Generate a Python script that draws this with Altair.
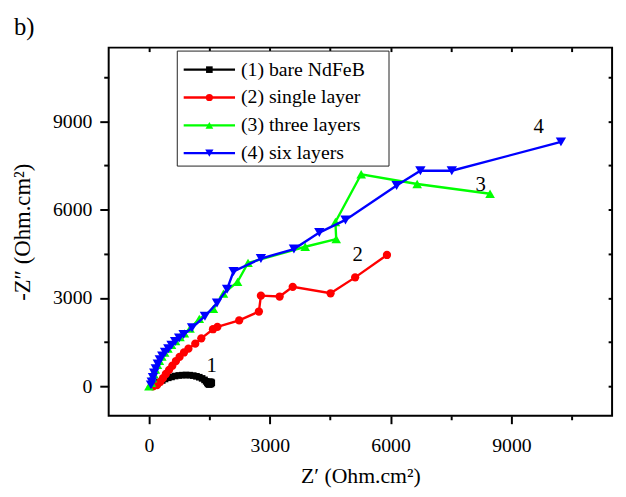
import altair as alt
import pandas as pd

# ---------------- data ----------------
series_names = ["(1) bare NdFeB", "(2) single layer", "(3) three layers", "(4) six layers"]
series_colors = ["#000000", "#ff0000", "#00ff00", "#0000ff"]
series_shapes = ["square", "circle", "triangle-up", "triangle-down"]
series_sizes = [45, 70, 95, 110]

bare_x = [100, 150, 200, 260, 330, 400, 480, 560, 650, 740, 830, 920, 1010, 1100,
          1180, 1250, 1320, 1380, 1420, 1450, 1470, 1500, 1540, 1560, 1540, 1500]
bare_y = [20, 60, 100, 150, 200, 250, 290, 320, 350, 370, 380, 385, 380, 365,
          340, 310, 270, 220, 170, 120, 80, 60, 80, 120, 150, 160]

single_x = [100, 200, 280, 350, 420, 500, 580, 670, 760, 870, 980, 1150, 1300, 1590,
            1700, 2240, 2730, 2780, 3245, 3570, 4510, 5120, 5910]
single_y = [0, 40, 150, 280, 420, 560, 700, 860, 1000, 1150, 1280, 1450, 1630, 1940,
            2020, 2240, 2540, 3080, 3050, 3380, 3160, 3700, 4460]

three_x = [0, 60, 90, 120, 160, 210, 260, 320, 390, 470, 560, 660, 770, 880, 1020,
           1250, 1600, 1850, 2200, 2460, 3880, 4650, 4630, 5270, 6660, 8470]
three_y = [0, 120, 270, 420, 570, 730, 870, 1010, 1150, 1280, 1410, 1540, 1670, 1800,
           1960, 2290, 2630, 3150, 3550, 4190, 4740, 5000, 5580, 7200, 6870, 6540]

six_x = [50, 70, 100, 130, 170, 220, 270, 330, 400, 480, 560, 650, 750, 860, 1070,
         1390, 1690, 1940, 2100, 2780, 3600, 4230, 4880, 6150, 6740, 7520, 10230]
six_y = [50, 150, 300, 450, 600, 760, 900, 1030, 1160, 1280, 1400, 1520, 1640, 1760,
         1990, 2380, 2830, 3300, 3900, 4340, 4660, 5220, 5650, 6820, 7320, 7320, 8300]

ann_labels = ["1", "2", "3", "4"]
ann_x = [1560, 5180, 8240, 9680]
ann_y = [700, 4470, 6830, 8800]

tick_values = [0, 1500, 3000, 4500, 6000, 7500, 9000, 10500]

panel_label = "b)"
x_title = "Z\u2032 (Ohm.cm\u00b2)"
y_title = "-Z\u2033 (Ohm.cm\u00b2)"

# ---------------- layout ----------------
W, H = 510, 373
XMIN, XMAX = -1000, 11500
YMIN, YMAX = -1000, 11500
FONT = "Liberation Serif"

xs = alt.Scale(domain=[XMIN, XMAX], nice=False, zero=False)
ys = alt.Scale(domain=[YMIN, YMAX], nice=False, zero=False)

major_test = "datum.value % 3000 === 0"

x_axis = alt.Axis(
    values=tick_values, format="d",
    labelExpr=f"{major_test} ? datum.label : ''",
    tickSize={"condition": {"test": major_test, "value": 8}, "value": 4},
    tickWidth=2, tickColor="black", domain=False, grid=False,
    labelFont=FONT, labelFontSize=20, labelColor="black", labelPadding=12,
    title=x_title, titleFont=FONT, titleFontSize=22, titleFontWeight="normal",
    titleColor="black", titlePadding=11,
)
y_axis = alt.Axis(
    values=tick_values, format="d",
    labelExpr=f"{major_test} ? datum.label : ''",
    tickSize={"condition": {"test": major_test, "value": 9}, "value": 5},
    tickWidth=2, tickColor="black", domain=False, grid=False,
    labelFont=FONT, labelFontSize=20, labelColor="black", labelPadding=8,
    title=y_title, titleFont=FONT, titleFontSize=23, titleFontWeight="normal",
    titleColor="black", titlePadding=18,
)
top_axis = alt.Axis(orient="top", values=tick_values, labels=False, tickSize=4,
                    tickWidth=2, tickColor="black", domain=False, grid=False,
                    offset=-4, title=None)
right_axis = alt.Axis(orient="right", values=tick_values, labels=False, tickSize=4,
                      tickWidth=2, tickColor="black", domain=False, grid=False,
                      offset=-4, title=None)

series_data = [(bare_x, bare_y), (single_x, single_y), (three_x, three_y), (six_x, six_y)]

layers = []
for k, (sx, sy) in enumerate(series_data):
    df = pd.DataFrame({"zr": sx, "zi": sy, "i": list(range(len(sx)))})
    first = (k == 0)
    xa = x_axis if first else None
    ya = y_axis if first else None
    line = alt.Chart(df).mark_line(strokeWidth=2.4, color=series_colors[k]).encode(
        x=alt.X("zr:Q", scale=xs, axis=xa),
        y=alt.Y("zi:Q", scale=ys, axis=ya),
        order=alt.Order("i:Q"),
    )
    pts = alt.Chart(df).mark_point(
        filled=True, opacity=1, shape=series_shapes[k], size=series_sizes[k],
        color=series_colors[k], strokeWidth=0,
    ).encode(
        x=alt.X("zr:Q", scale=xs, axis=None),
        y=alt.Y("zi:Q", scale=ys, axis=None),
    )
    layers += [line, pts]

# annotations 1..4
ann_df = pd.DataFrame({"t": ann_labels, "ax": ann_x, "ay": ann_y})
ann = alt.Chart(ann_df).mark_text(font=FONT, fontSize=21, color="black",
                                  align="center", baseline="middle").encode(
    x=alt.X("ax:Q", scale=xs, axis=None),
    y=alt.Y("ay:Q", scale=ys, axis=None),
    text="t:N",
)
layers.append(ann)

# legend (drawn inside the plot)
def px2x(px):
    return XMIN + px / W * (XMAX - XMIN)

def py2y(py):
    return YMAX - py / H * (YMAX - YMIN)

box = alt.Chart(pd.DataFrame({"a": [0]})).mark_rect(
    fill="white", stroke="#222222", strokeWidth=1
).encode(x=alt.value(69.5), x2=alt.value(284), y=alt.value(3.5), y2=alt.value(120))
layers.append(box)

leg_df = pd.DataFrame({
    "series": series_names,
    "ly": [py2y(22.3 + 28.2 * i) for i in range(4)],
    "lx0": [px2x(76)] * 4,
    "lx1": [px2x(128)] * 4,
    "lxm": [px2x(102)] * 4,
    "lxt": [px2x(134)] * 4,
})
cscale = alt.Scale(domain=series_names, range=series_colors)
leg_rule = alt.Chart(leg_df).mark_rule(strokeWidth=2.4).encode(
    x=alt.X("lx0:Q", scale=xs, axis=None), x2="lx1:Q",
    y=alt.Y("ly:Q", scale=ys, axis=None),
    color=alt.Color("series:N", scale=cscale, legend=None),
)
leg_pts = alt.Chart(leg_df).mark_point(filled=True, opacity=1, strokeWidth=0).encode(
    x=alt.X("lxm:Q", scale=xs, axis=None),
    y=alt.Y("ly:Q", scale=ys, axis=None),
    color=alt.Color("series:N", scale=cscale, legend=None),
    shape=alt.Shape("series:N", scale=alt.Scale(domain=series_names, range=series_shapes), legend=None),
    size=alt.Size("series:O", scale=alt.Scale(domain=series_names, range=series_sizes), legend=None),
)
leg_txt = alt.Chart(leg_df).mark_text(font=FONT, fontSize=20, color="black",
                                      align="left", baseline="middle").encode(
    x=alt.X("lxt:Q", scale=xs, axis=top_axis),
    y=alt.Y("ly:Q", scale=ys, axis=right_axis),
    text="series:N",
)
layers += [leg_rule, leg_pts, leg_txt]

panel = alt.Chart(pd.DataFrame({"a": [0]})).mark_text(
    font=FONT, fontSize=25, color="black", align="left", baseline="alphabetic"
).encode(x=alt.value(-96), y=alt.value(-13), text=alt.value(panel_label))
layers.append(panel)

chart = alt.layer(*layers).resolve_axis(x="independent", y="independent").properties(
    width=W, height=H,
    autosize=alt.AutoSizeParams(type="none"),
    padding={"left": 102, "top": 37, "right": 6, "bottom": 71},
    background="white",
).configure_view(stroke="black", strokeWidth=2)

chart.save("out.html", embed_options={"renderer": "svg", "actions": False})
